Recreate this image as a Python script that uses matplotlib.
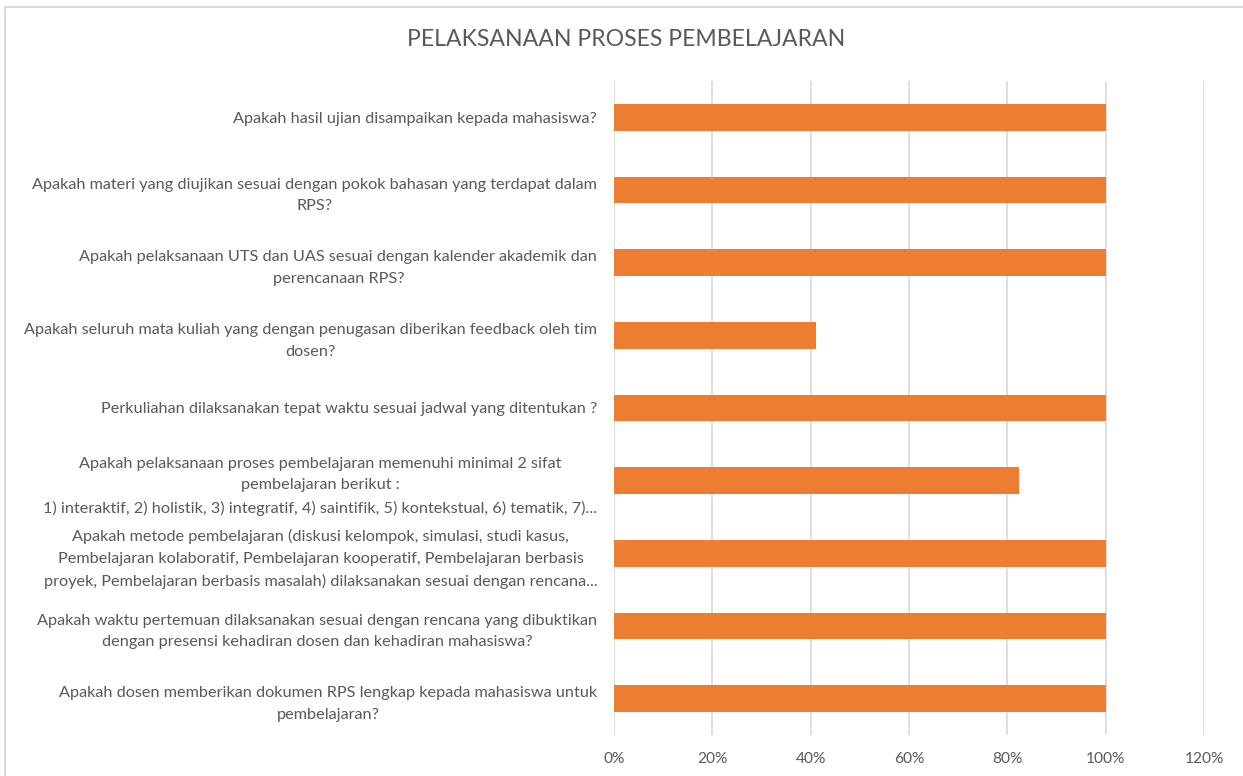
import matplotlib.pyplot as plt
from matplotlib.patches import Rectangle
from matplotlib.ticker import PercentFormatter

plt.rcParams['font.family'] = ['Lato', 'DejaVu Sans']

# categories listed bottom to top, as they appear on the chart
questions = [
    "Apakah dosen memberikan dokumen RPS lengkap kepada mahasiswa untuk\npembelajaran?",
    "Apakah waktu pertemuan dilaksanakan sesuai dengan rencana yang dibuktikan\ndengan presensi kehadiran dosen dan kehadiran mahasiswa?",
    "Apakah metode pembelajaran (diskusi kelompok, simulasi, studi kasus,\nPembelajaran kolaboratif, Pembelajaran kooperatif, Pembelajaran berbasis\nproyek, Pembelajaran berbasis masalah) dilaksanakan sesuai dengan rencana...",
    "Apakah pelaksanaan proses pembelajaran memenuhi minimal 2 sifat\npembelajaran berikut :\n1) interaktif, 2) holistik, 3) integratif, 4) saintifik, 5) kontekstual, 6) tematik, 7)...",
    "Perkuliahan dilaksanakan tepat waktu sesuai jadwal yang ditentukan ?",
    "Apakah seluruh mata kuliah yang dengan penugasan diberikan feedback oleh tim\ndosen?",
    "Apakah pelaksanaan UTS dan UAS sesuai dengan kalender akademik dan\nperencanaan RPS?",
    "Apakah materi yang diujikan sesuai dengan pokok bahasan yang terdapat dalam\nRPS?",
    "Apakah hasil ujian disampaikan kepada mahasiswa?",
]
values = [1.0, 1.0, 1.0, 0.8235, 1.0, 0.4118, 1.0, 1.0, 1.0]
title = "PELAKSANAAN PROSES PEMBELAJARAN"

fig = plt.figure(figsize=(12.43, 7.76), dpi=100)
fig.patches.append(Rectangle((5 / 1243, -0.1), 1.2, (776 - 7) / 776 + 0.1,
                             transform=fig.transFigure, fill=False,
                             edgecolor='#d9d9d9', linewidth=1.5))
ax = fig.add_axes([614 / 1243, 1 - 735 / 776, 590 / 1243, 654 / 776])

ax.barh(range(len(values)), values, height=0.37, color='#ED7D31', zorder=3)
ax.set_xlim(0, 1.2)
ax.set_ylim(-0.5, len(values) - 0.5)
ax.set_xticks([0, 0.2, 0.4, 0.6, 0.8, 1.0, 1.2])
ax.xaxis.set_major_formatter(PercentFormatter(1.0, decimals=0))
ax.set_yticks(range(len(questions)))
ax.set_yticklabels(questions)
for lab in ax.get_yticklabels():
    lab.set_multialignment('center')
    lab.set_linespacing(1.7)

ax.grid(axis='x', color='#d9d9d9', linewidth=1.2, zorder=0)
for s in ax.spines.values():
    s.set_visible(False)
ax.tick_params(axis='both', length=0, colors='#595959')
ax.tick_params(axis='y', labelsize=11.7, pad=12)
ax.tick_params(axis='x', labelsize=11.2, pad=12)

fig.text(0.5 + 0.004, 1 - 40 / 776, title, ha='center', va='center',
         fontsize=16.6, color='#595959')

fig.savefig('out.png', dpi=100)
